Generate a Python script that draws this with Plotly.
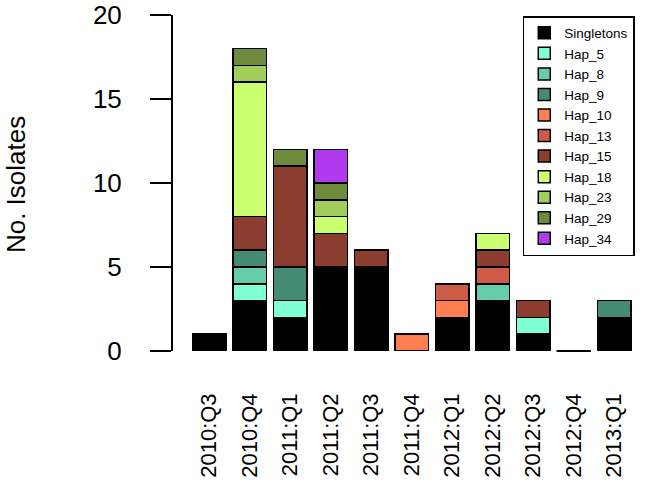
import plotly.graph_objects as go

categories = ["2010:Q3", "2010:Q4", "2011:Q1", "2011:Q2", "2011:Q3", "2011:Q4",
              "2012:Q1", "2012:Q2", "2012:Q3", "2012:Q4", "2013:Q1"]

singletons = [1, 3, 2, 5, 5, 0, 2, 3, 1, 0, 2]
hap_5 = [0, 1, 1, 0, 0, 0, 0, 0, 1, 0, 0]
hap_8 = [0, 1, 0, 0, 0, 0, 0, 1, 0, 0, 0]
hap_9 = [0, 1, 2, 0, 0, 0, 0, 0, 0, 0, 1]
hap_10 = [0, 0, 0, 0, 0, 1, 1, 0, 0, 0, 0]
hap_13 = [0, 0, 0, 0, 0, 0, 1, 1, 0, 0, 0]
hap_15 = [0, 2, 6, 2, 1, 0, 0, 1, 1, 0, 0]
hap_18 = [0, 8, 0, 1, 0, 0, 0, 1, 0, 0, 0]
hap_23 = [0, 1, 0, 1, 0, 0, 0, 0, 0, 0, 0]
hap_29 = [0, 1, 1, 1, 0, 0, 0, 0, 0, 0, 0]
hap_34 = [0, 0, 0, 2, 0, 0, 0, 0, 0, 0, 0]

series_names = ["Singletons", "Hap_5", "Hap_8", "Hap_9", "Hap_10", "Hap_13",
                "Hap_15", "Hap_18", "Hap_23", "Hap_29", "Hap_34"]
series_values = [singletons, hap_5, hap_8, hap_9, hap_10, hap_13,
                 hap_15, hap_18, hap_23, hap_29, hap_34]
series_colors = ["#000000", "#7FFFD4", "#66CDAA", "#458B74", "#FF7F50", "#CD5B45",
                 "#8B3E2F", "#CAFF70", "#A2CD5A", "#6E8B3D", "#B23AEE"]

y_ticks = [0, 5, 10, 15, 20]
y_title = "No. Isolates"

FONT = "Liberation Sans, Arial, sans-serif"

fig = go.Figure()
for name, vals, col in zip(series_names, series_values, series_colors):
    fig.add_trace(go.Bar(
        x=categories, y=vals, name=name,
        marker=dict(color=col, line=dict(color="black", width=1.5)),
        cliponaxis=False,
    ))

# zero-total categories are drawn as a flat line at 0 (as R barplot does)
totals = [sum(v[i] for v in series_values) for i in range(len(categories))]
zero_x = [c for c, t in zip(categories, totals) if t == 0]
zero_y = [t for t in totals if t == 0]
fig.add_trace(go.Scatter(
    x=zero_x, y=zero_y, mode="markers", showlegend=False, hoverinfo="skip",
    cliponaxis=False, yaxis="y2",
    marker=dict(symbol="line-ew", size=24.5, color="black",
                line=dict(color="black", width=2)),
))

fig.update_layout(
    width=646, height=491,
    barmode="stack", bargap=0.167,
    paper_bgcolor="white", plot_bgcolor="white",
    margin=dict(l=173, r=6, t=15, b=140, autoexpand=False),
    font=dict(family=FONT, color="black"),
    showlegend=True,
    legend=dict(
        traceorder="normal",
        x=0.749, y=0.997, xanchor="left", yanchor="top",
        bgcolor="white", bordercolor="black", borderwidth=1.5,
        font=dict(family=FONT, size=13.5, color="black"),
        itemwidth=30,
    ),
    xaxis=dict(
        type="category", categoryorder="array", categoryarray=categories,
        range=[-0.894, 10.637],
        showline=False, showgrid=False, zeroline=False, ticks="",
        tickangle=-90, tickfont=dict(size=22),
        ticklabelstandoff=37,
    ),
    yaxis=dict(
        range=[0, 20], tickvals=y_ticks, ticktext=[str(t) for t in y_ticks],
        showline=False,
        ticks="outside", ticklen=45, tickwidth=1, tickcolor="rgba(0,0,0,0)",
        showgrid=False, zeroline=False,
        tickfont=dict(size=26),
        ticklabeloverflow="allow",
    ),
    yaxis2=dict(
        overlaying="y", matches="y", side="left",
        range=[0, 20], tickvals=y_ticks,
        showline=True, linecolor="black", linewidth=1.5,
        ticks="outside", ticklen=21, tickwidth=1.5, tickcolor="black",
        showticklabels=False, showgrid=False, zeroline=False,
    ),
    annotations=[dict(
        text=y_title, textangle=-90, showarrow=False,
        xref="paper", yref="paper", x=-0.336, y=0.494,
        xanchor="center", yanchor="middle",
        font=dict(family=FONT, size=26, color="black"),
    )],
)

fig.write_html("out.html", config={"displayModeBar": False},
               post_script="document.body.style.margin='0';")
